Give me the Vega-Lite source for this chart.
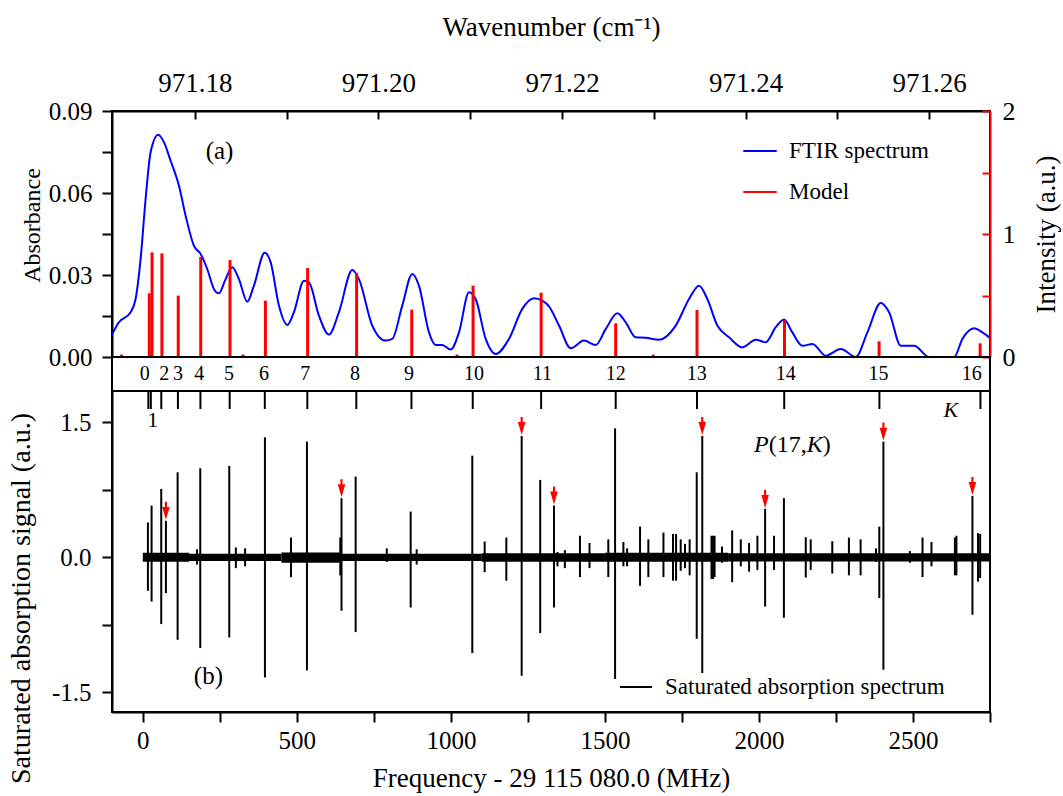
{
  "$schema": "https://vega.github.io/schema/vega-lite/v6.json",
  "autosize": {"type": "pad"},
  "padding": {"left": 5, "top": 12, "right": 5, "bottom": 5},
  "bounds": "flush",
  "spacing": 0,
  "config": {
    "font": "Liberation Serif",
    "view": {"stroke": "black", "strokeWidth": 2},
    "axis": {"labelFontSize": 25, "titleFontSize": 27, "titleFontWeight": "normal", "labelColor": "black", "titleColor": "black", "domainColor": "black", "tickColor": "black", "domainWidth": 2, "tickWidth": 2, "grid": false, "labelOverlap": false, "labelFlush": false},
    "legend": {"labelFontSize": 23, "labelColor": "black", "labelLimit": 500},
    "text": {"fontSize": 24, "color": "black"}
  },
  "datasets": {
    "ftir": [
      {"mhz": -100, "abs": 0.0082}, {"mhz": -77.6, "abs": 0.0127}, {"mhz": -39.6, "abs": 0.0164}, {"mhz": -23.4, "abs": 0.0212},
      {"mhz": -7.1, "abs": 0.0359}, {"mhz": 9.1, "abs": 0.0578}, {"mhz": 25.3, "abs": 0.0749}, {"mhz": 50, "abs": 0.0813},
      {"mhz": 68.5, "abs": 0.0786}, {"mhz": 90.3, "abs": 0.0718}, {"mhz": 117.2, "abs": 0.0627}, {"mhz": 139, "abs": 0.0517},
      {"mhz": 165.9, "abs": 0.0407}, {"mhz": 187.7, "abs": 0.0377}, {"mhz": 209.1, "abs": 0.0322}, {"mhz": 230.8, "abs": 0.0249},
      {"mhz": 247.1, "abs": 0.0233}, {"mhz": 268.8, "abs": 0.0285}, {"mhz": 290.3, "abs": 0.0328}, {"mhz": 312, "abs": 0.0285},
      {"mhz": 339, "abs": 0.0202}, {"mhz": 360.7, "abs": 0.0261}, {"mhz": 395.5, "abs": 0.0381}, {"mhz": 414.9, "abs": 0.0347},
      {"mhz": 441.9, "abs": 0.0188}, {"mhz": 468.8, "abs": 0.0117}, {"mhz": 490.6, "abs": 0.0164}, {"mhz": 523.1, "abs": 0.0279},
      {"mhz": 539.3, "abs": 0.0273}, {"mhz": 571.8, "abs": 0.0151}, {"mhz": 604.2, "abs": 0.0082}, {"mhz": 636.7, "abs": 0.0164},
      {"mhz": 679.9, "abs": 0.0318}, {"mhz": 701.6, "abs": 0.0285}, {"mhz": 744.8, "abs": 0.0115}, {"mhz": 788.3, "abs": 0.006},
      {"mhz": 809.7, "abs": 0.0066}, {"mhz": 842.2, "abs": 0.0188}, {"mhz": 874.7, "abs": 0.0304}, {"mhz": 896.4, "abs": 0.0261},
      {"mhz": 928.9, "abs": 0.009}, {"mhz": 950.6, "abs": 0.0044}, {"mhz": 972.1, "abs": 0.0044}, {"mhz": 999.4, "abs": 0.0027},
      {"mhz": 1026.3, "abs": 0.009}, {"mhz": 1058.8, "abs": 0.0237}, {"mhz": 1080.5, "abs": 0.0212}, {"mhz": 1113, "abs": 0.0066},
      {"mhz": 1145.5, "abs": 0.0011}, {"mhz": 1188.6, "abs": 0.0066}, {"mhz": 1231.8, "abs": 0.0176}, {"mhz": 1269.8, "abs": 0.0215},
      {"mhz": 1296.8, "abs": 0.0206}, {"mhz": 1318.5, "abs": 0.0185}, {"mhz": 1351, "abs": 0.0115}, {"mhz": 1389, "abs": 0.0032},
      {"mhz": 1432.1, "abs": 0.006}, {"mhz": 1470.1, "abs": 0.0044}, {"mhz": 1502.6, "abs": 0.0102}, {"mhz": 1540.3, "abs": 0.016},
      {"mhz": 1567.5, "abs": 0.0127}, {"mhz": 1600, "abs": 0.0072}, {"mhz": 1632.5, "abs": 0.007}, {"mhz": 1675.6, "abs": 0.0063},
      {"mhz": 1729.9, "abs": 0.0115}, {"mhz": 1773.1, "abs": 0.0212}, {"mhz": 1805.5, "abs": 0.0261}, {"mhz": 1832.5, "abs": 0.0212},
      {"mhz": 1865, "abs": 0.0115}, {"mhz": 1903, "abs": 0.0072}, {"mhz": 1946.1, "abs": 0.0035}, {"mhz": 1989.6, "abs": 0.0063},
      {"mhz": 2022.1, "abs": 0.0054}, {"mhz": 2054.5, "abs": 0.0109}, {"mhz": 2081.5, "abs": 0.0137}, {"mhz": 2108.4, "abs": 0.009},
      {"mhz": 2140.9, "abs": 0.0041}, {"mhz": 2173.4, "abs": 0.0048}, {"mhz": 2216.9, "abs": 0.0005}, {"mhz": 2265.6, "abs": 0.0029},
      {"mhz": 2314.3, "abs": 0.0}, {"mhz": 2352, "abs": 0.009}, {"mhz": 2395.5, "abs": 0.0198}, {"mhz": 2422.4, "abs": 0.0164},
      {"mhz": 2460.4, "abs": 0.0041}, {"mhz": 2503.6, "abs": 0.0041}, {"mhz": 2552.3, "abs": 0.0}, {"mhz": 2584.7, "abs": 0.0},
      {"mhz": 2633.4, "abs": 0.0}, {"mhz": 2660.4, "abs": 0.0066}, {"mhz": 2698.4, "abs": 0.0105}, {"mhz": 2725.3, "abs": 0.009},
      {"mhz": 2750, "abs": 0.007}
    ],
    "model": [
      {"mhz": -69, "intensity": 0.02}, {"mhz": 21, "intensity": 0.518}, {"mhz": 30, "intensity": 0.851}, {"mhz": 62, "intensity": 0.843},
      {"mhz": 115, "intensity": 0.499}, {"mhz": 188, "intensity": 0.813}, {"mhz": 283, "intensity": 0.789}, {"mhz": 325, "intensity": 0.02},
      {"mhz": 398, "intensity": 0.458}, {"mhz": 535, "intensity": 0.724}, {"mhz": 694, "intensity": 0.683}, {"mhz": 873, "intensity": 0.385},
      {"mhz": 1020, "intensity": 0.02}, {"mhz": 1072, "intensity": 0.58}, {"mhz": 1293, "intensity": 0.523}, {"mhz": 1535, "intensity": 0.274},
      {"mhz": 1657, "intensity": 0.02}, {"mhz": 1799, "intensity": 0.382}, {"mhz": 2083, "intensity": 0.303}, {"mhz": 2390, "intensity": 0.128},
      {"mhz": 2718, "intensity": 0.111}
    ],
    "kband": [
      {"K": "0", "mhz": 18, "labelMhz": 6, "place": "band"},
      {"K": "1", "mhz": 26, "labelMhz": 32, "place": "below"},
      {"K": "2", "mhz": 60, "labelMhz": 70, "place": "band"},
      {"K": "3", "mhz": 114, "labelMhz": 114, "place": "band"},
      {"K": "4", "mhz": 187, "labelMhz": 183, "place": "band"},
      {"K": "5", "mhz": 282, "labelMhz": 280, "place": "band"},
      {"K": "6", "mhz": 396, "labelMhz": 393, "place": "band"},
      {"K": "7", "mhz": 534, "labelMhz": 527, "place": "band"},
      {"K": "8", "mhz": 693, "labelMhz": 689, "place": "band"},
      {"K": "9", "mhz": 872, "labelMhz": 864, "place": "band"},
      {"K": "10", "mhz": 1071, "labelMhz": 1075, "place": "band"},
      {"K": "11", "mhz": 1293, "labelMhz": 1297, "place": "band"},
      {"K": "12", "mhz": 1535, "labelMhz": 1535, "place": "band"},
      {"K": "13", "mhz": 1799, "labelMhz": 1798, "place": "band"},
      {"K": "14", "mhz": 2082, "labelMhz": 2087, "place": "band"},
      {"K": "15", "mhz": 2391, "labelMhz": 2388, "place": "band"},
      {"K": "16", "mhz": 2719, "labelMhz": 2691, "place": "band"}
    ],
    "noise": [
      {"x0": 0, "x1": 150, "hi": 0.05, "lo": -0.05},
      {"x0": 150, "x1": 450, "hi": 0.04, "lo": -0.04},
      {"x0": 450, "x1": 640, "hi": 0.055, "lo": -0.06},
      {"x0": 640, "x1": 1100, "hi": 0.04, "lo": -0.042},
      {"x0": 1100, "x1": 1500, "hi": 0.045, "lo": -0.05},
      {"x0": 1500, "x1": 1900, "hi": 0.05, "lo": -0.05},
      {"x0": 1900, "x1": 2750, "hi": 0.045, "lo": -0.045}
    ],
    "spikes": [
      {"mhz": 16.6, "top": 0.387, "bottom": -0.372}, {"mhz": 28.5, "top": 0.576, "bottom": -0.491},
      {"mhz": 59.8, "top": 0.761, "bottom": -0.742}, {"mhz": 75, "top": 0.406, "bottom": -0.398, "arrow": true},
      {"mhz": 113, "top": 0.946, "bottom": -0.917}, {"mhz": 176, "top": 0.09, "bottom": -0.08},
      {"mhz": 186.5, "top": 0.991, "bottom": -1.009}, {"mhz": 280.6, "top": 1.017, "bottom": -0.891},
      {"mhz": 302, "top": 0.11, "bottom": -0.12}, {"mhz": 332, "top": 0.1, "bottom": -0.1},
      {"mhz": 396.4, "top": 1.335, "bottom": -1.336}, {"mhz": 481, "top": 0.22, "bottom": -0.22},
      {"mhz": 532.8, "top": 1.287, "bottom": -1.258}, {"mhz": 641, "top": 0.22, "bottom": -0.2},
      {"mhz": 645, "top": 0.658, "bottom": -0.594, "arrow": true}, {"mhz": 690.9, "top": 0.898, "bottom": -0.831},
      {"mhz": 792, "top": 0.1, "bottom": -0.05}, {"mhz": 869.5, "top": 0.509, "bottom": -0.558},
      {"mhz": 889, "top": 0.09, "bottom": -0.08}, {"mhz": 1069.5, "top": 1.131, "bottom": -1.065},
      {"mhz": 1109.7, "top": 0.176, "bottom": -0.165}, {"mhz": 1180, "top": 0.22, "bottom": -0.26},
      {"mhz": 1229.8, "top": 1.35, "bottom": -1.317, "arrow": true}, {"mhz": 1290, "top": 0.861, "bottom": -0.843},
      {"mhz": 1334.7, "top": 0.576, "bottom": -0.558, "arrow": true}, {"mhz": 1346, "top": 0.06, "bottom": -0.1},
      {"mhz": 1370, "top": 0.08, "bottom": -0.12}, {"mhz": 1419, "top": 0.24, "bottom": -0.22},
      {"mhz": 1450, "top": 0.16, "bottom": -0.12}, {"mhz": 1511, "top": 0.2, "bottom": -0.22},
      {"mhz": 1533, "top": 1.435, "bottom": -1.353}, {"mhz": 1560, "top": 0.17, "bottom": -0.1},
      {"mhz": 1572, "top": 0.1, "bottom": -0.1}, {"mhz": 1614, "top": 0.342, "bottom": -0.317},
      {"mhz": 1641, "top": 0.2, "bottom": -0.22}, {"mhz": 1690, "top": 0.276, "bottom": -0.22},
      {"mhz": 1721, "top": 0.26, "bottom": -0.26}, {"mhz": 1731, "top": 0.26, "bottom": -0.26},
      {"mhz": 1746, "top": 0.2, "bottom": -0.15}, {"mhz": 1760, "top": 0.15, "bottom": -0.12},
      {"mhz": 1775, "top": 0.2, "bottom": -0.2}, {"mhz": 1798, "top": 0.946, "bottom": -0.906},
      {"mhz": 1816, "top": 1.35, "bottom": -1.287, "arrow": true}, {"mhz": 1846, "top": 0.24, "bottom": -0.24},
      {"mhz": 1851, "top": 0.24, "bottom": -0.24}, {"mhz": 1856, "top": 0.24, "bottom": -0.22},
      {"mhz": 1880, "top": 0.12, "bottom": -0.06}, {"mhz": 1913, "top": 0.3, "bottom": -0.276},
      {"mhz": 1941, "top": 0.2, "bottom": -0.1}, {"mhz": 1968, "top": 0.16, "bottom": -0.16},
      {"mhz": 1995, "top": 0.24, "bottom": -0.14}, {"mhz": 2020, "top": 0.539, "bottom": -0.547, "arrow": true},
      {"mhz": 2049, "top": 0.24, "bottom": -0.14}, {"mhz": 2081, "top": 0.658, "bottom": -0.672},
      {"mhz": 2152, "top": 0.224, "bottom": -0.224}, {"mhz": 2168, "top": 0.2, "bottom": -0.14},
      {"mhz": 2238, "top": 0.18, "bottom": -0.18}, {"mhz": 2292, "top": 0.22, "bottom": -0.2},
      {"mhz": 2330, "top": 0.2, "bottom": -0.2}, {"mhz": 2380, "top": 0.1, "bottom": -0.05},
      {"mhz": 2390.6, "top": 0.342, "bottom": -0.453}, {"mhz": 2404, "top": 1.287, "bottom": -1.25, "arrow": true},
      {"mhz": 2490, "top": 0.07, "bottom": -0.06}, {"mhz": 2531, "top": 0.22, "bottom": -0.22},
      {"mhz": 2560, "top": 0.17, "bottom": -0.1}, {"mhz": 2636, "top": 0.22, "bottom": -0.2},
      {"mhz": 2641, "top": 0.24, "bottom": -0.2}, {"mhz": 2693, "top": 0.683, "bottom": -0.639, "arrow": true},
      {"mhz": 2711, "top": 0.27, "bottom": -0.27}, {"mhz": 2718, "top": 0.26, "bottom": -0.23}
    ],
    "notes": [
      {"t": "(b)", "mhz": 213, "v": -1.317, "style": "normal", "align": "center"},
      {"t": "K", "mhz": 2623, "v": 1.64, "style": "italic", "align": "center"},
      {"t": "P", "mhz": 1984, "v": 1.25, "style": "italic", "align": "left"},
      {"t": "(17,", "mhz": 2032, "v": 1.25, "style": "normal", "align": "left"},
      {"t": "K", "mhz": 2155, "v": 1.25, "style": "italic", "align": "left"},
      {"t": ")", "mhz": 2207, "v": 1.25, "style": "normal", "align": "left"}
    ]
  },
  "resolve": {"scale": {"color": "independent", "x": "independent", "y": "independent"}, "legend": {"color": "independent"}},
  "vconcat": [
    {
      "width": 878,
      "height": 246,
      "layer": [
        {
          "data": {"name": "ftir"},
          "mark": {"type": "line", "strokeWidth": 2, "interpolate": "monotone", "clip": true},
          "encoding": {
            "x": {
              "field": "mhz", "type": "quantitative",
              "scale": {"domain": [-100, 2750], "nice": false, "zero": false},
              "axis": {
                "orient": "top", "title": "Wavenumber (cm⁻¹)",
                "values": [169.2, 467.1, 765.0, 1062.9, 1360.8, 1658.6, 1956.5, 2254.4, 2552.3],
                "labelExpr": "round((datum.value - 169.2) / 297.9) % 2 == 0 ? format(971.18 + round((datum.value - 169.2) / 297.9) * 0.01, '.2f') : ''",
                "labelFontSize": 27, "tickSize": -8, "labelPadding": 22, "titleY": -84, "titleBaseline": "middle"
              }
            },
            "y": {
              "field": "abs", "type": "quantitative",
              "scale": {"domain": [0, 0.09], "nice": false, "zero": false},
              "axis": {
                "title": "Absorbance",
                "values": [0, 0.015, 0.03, 0.045, 0.06, 0.075, 0.09],
                "labelExpr": "round(datum.value / 0.015) % 2 == 0 ? format(datum.value, '.2f') : ''",
                "labelFontSize": 25, "tickSize": 10, "labelPadding": 10, "titleFontSize": 24, "titleX": -80, "titleY": 114, "titleBaseline": "middle", "titleAngle": -90
              }
            },
            "color": {
              "datum": "FTIR spectrum", "type": "nominal",
              "scale": {"domain": ["FTIR spectrum", "Model"], "range": ["#0000ff", "#ff0000"]},
              "legend": {"orient": "none", "legendX": 630, "legendY": 22, "title": null, "symbolType": "stroke", "symbolSize": 1120, "symbolStrokeWidth": 2, "labelOffset": 11, "rowPadding": 11, "padding": 0, "labelFontSize": 23}
            }
          }
        },
        {
          "data": {"name": "model"},
          "mark": {"type": "rule", "strokeWidth": 3},
          "encoding": {
            "x": {"field": "mhz", "type": "quantitative"},
            "y": {
              "field": "intensity", "type": "quantitative",
              "scale": {"domain": [0, 2], "nice": false, "zero": false},
              "axis": {
                "orient": "right", "title": "Intensity (a.u.)",
                "values": [0, 0.5, 1, 1.5, 2],
                "labelExpr": "datum.value % 1 == 0 ? format(datum.value, 'd') : ''",
                "labelFontSize": 26, "domainColor": "#ff0000", "tickColor": "#ff0000", "tickSize": -8, "labelPadding": 20,
                "titleAngle": -90, "titleX": 56, "titleBaseline": "middle"
              }
            },
            "y2": {"datum": 0},
            "color": {"datum": "Model", "type": "nominal"}
          }
        },
        {
          "data": {"values": [{"t": "(a)", "mhz": 249, "v": 0.0752}]},
          "mark": {"type": "text", "fontSize": 25},
          "encoding": {
            "x": {"field": "mhz", "type": "quantitative"},
            "y": {"field": "v", "type": "quantitative", "scale": {"domain": [0, 0.09], "nice": false, "zero": false}, "axis": null},
            "text": {"field": "t"}
          }
        }
      ],
      "resolve": {"scale": {"y": "independent"}, "axis": {"y": "independent"}}
    },
    {
      "width": 878,
      "height": 34,
      "data": {"name": "kband"},
      "transform": [{"filter": "datum.place == 'band'"}],
      "mark": {"type": "text", "fontSize": 20},
      "encoding": {
        "x": {"field": "labelMhz", "type": "quantitative", "scale": {"domain": [-100, 2750], "nice": false, "zero": false}, "axis": null},
        "text": {"field": "K"}
      }
    },
    {
      "width": 878,
      "height": 321,
      "layer": [
        {
          "data": {"name": "noise"},
          "mark": {"type": "rect", "color": "black"},
          "encoding": {
            "x": {
              "field": "x0", "type": "quantitative",
              "scale": {"domain": [-100, 2750], "nice": false, "zero": false},
              "axis": {
                "title": "Frequency - 29 115 080.0 (MHz)",
                "values": [0, 250, 500, 750, 1000, 1250, 1500, 1750, 2000, 2250, 2500, 2750],
                "labelExpr": "datum.value % 500 == 0 ? format(datum.value, 'd') : ''",
                "tickSize": 10, "labelPadding": 6, "titleY": 66, "titleBaseline": "middle"
              }
            },
            "x2": {"field": "x1"},
            "y": {
              "field": "hi", "type": "quantitative",
              "scale": {"domain": [-1.72, 1.85], "nice": false, "zero": false},
              "axis": {
                "title": "Saturated absorption signal (a.u.)",
                "values": [-1.5, -0.75, 0, 0.75, 1.5],
                "labelExpr": "abs(datum.value) == 0.75 ? '' : (datum.value < 0 ? '-' + format(-datum.value, '.1f') : format(datum.value, '.1f'))",
                "tickSize": 10, "labelPadding": 11, "titleFontSize": 28, "titleX": -91, "titleY": 207, "titleBaseline": "middle", "titleAngle": -90
              }
            },
            "y2": {"field": "lo"}
          }
        },
        {
          "data": {"name": "spikes"},
          "mark": {"type": "rule", "strokeWidth": 2},
          "encoding": {
            "x": {"field": "mhz", "type": "quantitative"},
            "y": {"field": "top", "type": "quantitative"},
            "y2": {"field": "bottom"},
            "color": {
              "datum": "Saturated absorption spectrum", "type": "nominal",
              "scale": {"domain": ["Saturated absorption spectrum"], "range": ["black"]},
              "legend": {"orient": "none", "legendX": 507, "legendY": 279, "title": null, "symbolType": "stroke", "symbolSize": 1024, "symbolStrokeWidth": 2, "labelOffset": 12, "padding": 0, "labelFontSize": 23, "labelLimit": 500}
            }
          }
        },
        {
          "data": {"name": "kband"},
          "mark": {"type": "rule", "strokeWidth": 2, "color": "black"},
          "encoding": {
            "x": {"field": "mhz", "type": "quantitative"},
            "y": {"datum": 1.65},
            "y2": {"datum": 1.85}
          }
        },
        {
          "data": {"name": "spikes"},
          "transform": [{"filter": "datum.arrow"}],
          "mark": {"type": "point", "shape": "M -0.12 -1 L 0.12 -1 L 0.12 -0.44 L 0.42 -0.44 L 0 1 L -0.42 -0.44 L -0.12 -0.44 Z", "size": 324, "filled": true, "color": "#ff0000", "opacity": 1, "yOffset": -10},
          "encoding": {
            "x": {"field": "mhz", "type": "quantitative"},
            "y": {"field": "top", "type": "quantitative"}
          }
        },
        {
          "data": {"name": "kband"},
          "transform": [{"filter": "datum.place == 'below'"}],
          "mark": {"type": "text", "fontSize": 22},
          "encoding": {
            "x": {"field": "labelMhz", "type": "quantitative"},
            "y": {"datum": 1.53},
            "text": {"field": "K"}
          }
        },
        {
          "data": {"name": "notes"},
          "transform": [{"filter": "datum.style == 'normal' && datum.align == 'center'"}],
          "mark": {"type": "text", "fontSize": 25},
          "encoding": {"x": {"field": "mhz", "type": "quantitative"}, "y": {"field": "v", "type": "quantitative"}, "text": {"field": "t"}}
        },
        {
          "data": {"name": "notes"},
          "transform": [{"filter": "datum.style == 'italic' && datum.align == 'center'"}],
          "mark": {"type": "text", "fontSize": 22, "fontStyle": "italic"},
          "encoding": {"x": {"field": "mhz", "type": "quantitative"}, "y": {"field": "v", "type": "quantitative"}, "text": {"field": "t"}}
        },
        {
          "data": {"name": "notes"},
          "transform": [{"filter": "datum.style == 'normal' && datum.align == 'left'"}],
          "mark": {"type": "text", "fontSize": 24, "align": "left"},
          "encoding": {"x": {"field": "mhz", "type": "quantitative"}, "y": {"field": "v", "type": "quantitative"}, "text": {"field": "t"}}
        },
        {
          "data": {"name": "notes"},
          "transform": [{"filter": "datum.style == 'italic' && datum.align == 'left'"}],
          "mark": {"type": "text", "fontSize": 24, "align": "left", "fontStyle": "italic"},
          "encoding": {"x": {"field": "mhz", "type": "quantitative"}, "y": {"field": "v", "type": "quantitative"}, "text": {"field": "t"}}
        }
      ]
    }
  ]
}
